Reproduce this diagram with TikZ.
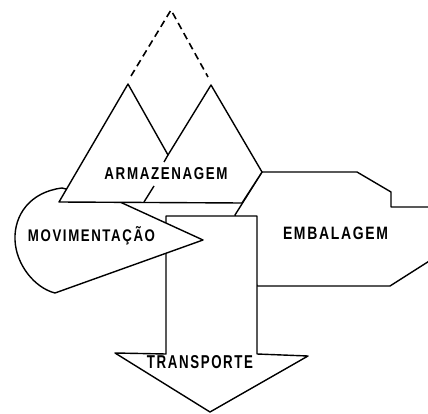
\documentclass[tikz,border=0pt]{standalone}
\usepackage{fontspec}
\usepackage{graphicx}
\newfontfamily\labfont[LetterSpace=12]{Liberation Sans}
\newcommand\lbl[3]{\resizebox{#1}{#2}{\labfont\bfseries #3}}
\begin{document}
\begin{tikzpicture}[x=1pt,y=-1pt,line join=round,
  shp/.style={draw=black,fill=white,line width=1.4pt},
  lab/.style={inner sep=0pt,anchor=center}]
\path[use as bounding box] (0,0) rectangle (428,414);
\clip (0,0) rectangle (428,414);
% dashed top of the big triangle
\draw[line width=1.6pt,dash pattern=on 7pt off 4.5pt] (131,76) -- (171,10) -- (208,77);
% EMBALAGEM
\draw[shp] (262,172) -- (357,172) -- (391,192) -- (391,207) -- (445,207) -- (445,251)
  -- (390,286) -- (257,286) -- (235,215) -- cycle;
% TRANSPORTE arrow
\draw[shp] (166,216) -- (257,216) -- (257,354) -- (308,356) -- (210,412)
  -- (115,353) -- (166,354) -- cycle;
% MOVIMENTACAO
\draw[shp] (120,202) -- (203,240) -- (55,293)
  .. controls (35,288) and (16,265) .. (15,240)
  .. controls (14,215) and (30,192) .. (62,188) -- cycle;
% ARMAZENAGEM
\draw[shp] (59,202) -- (128,84) -- (168,155) -- (211,85) -- (262,172) -- (242,203) -- cycle;
\draw[line width=1.4pt] (168,155) -- (164,162);
\draw[line width=1.4pt] (154,186) -- (144,202);
% labels
\node[lab] (arm) at (166,174) {\lbl{123pt}{12pt}{ARMAZENAGEM}};
\node[lab] (mov) at (91.5,236) {\lbl{127pt}{15pt}{MOVIMENTAÇÃO}};
\node[lab] (emb) at (335.5,233.5) {\lbl{105pt}{12.5pt}{EMBALAGEM}};
\node[lab] (tra) at (200,362) {\lbl{106pt}{13pt}{TRANSPORTE}};
\end{tikzpicture}
\end{document}
